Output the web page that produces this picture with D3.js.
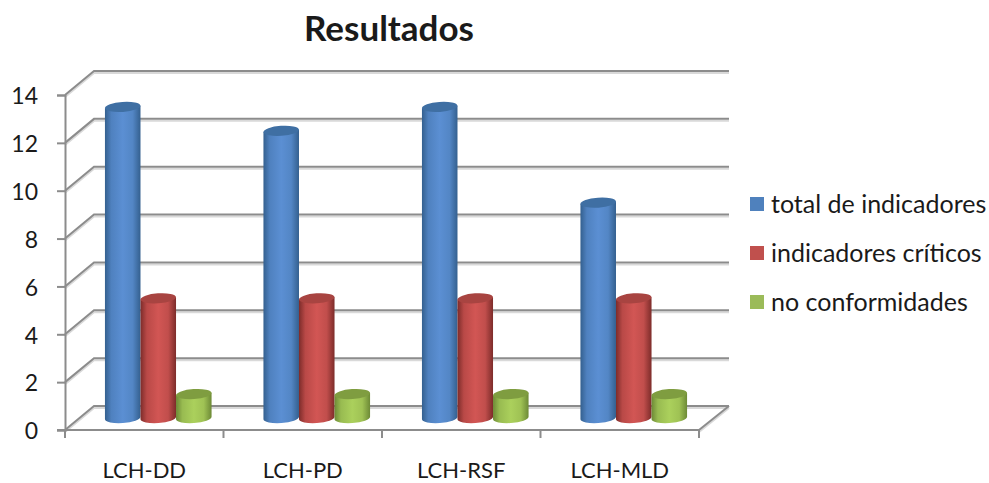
<!DOCTYPE html>
<html>
<head>
<meta charset="utf-8">
<script src="https://cdn.jsdelivr.net/npm/d3@7"></script>
<style>
  html, body { margin: 0; padding: 0; background: #fff; }
  svg { display: block; }
  text { font-family: Lato, "Open Sans", sans-serif; fill: #1a1a1a; }
</style>
</head>
<body>
<svg id="chart" width="989" height="483"></svg>
<script>
const categories = ["LCH-DD", "LCH-PD", "LCH-RSF", "LCH-MLD"];
const seriesNames = ["total de indicadores", "indicadores críticos", "no conformidades"];
const totalIndicadores = [13, 12, 13, 9];
const indicadoresCriticos = [5, 5, 5, 5];
const noConformidades = [1, 1, 1, 1];
const seriesValues = [totalIndicadores, indicadoresCriticos, noConformidades];
const yTicks = [0, 2, 4, 6, 8, 10, 12, 14];
const seriesColors = [
  { center: "#5b8fd3", edge: "#34608f", top: "#3f6fa3", key: "#4f81bd" },
  { center: "#d25654", edge: "#7d2c2a", top: "#a84441", key: "#c0504d" },
  { center: "#abd05c", edge: "#6d8a36", top: "#7f9d40", key: "#9bbb59" }
];

const svg = d3.select("#chart");

// Oblique projection of the box: depth shifts right and upward.
const depthX = 29, depthY = 24;
const frontLeft = 65, frontRight = 699, frontBottom = 430, frontTop = 95;

const y = d3.scaleLinear().domain([0, 14]).range([frontBottom, frontTop]);
const x = d3.scaleBand().domain(categories).range([frontLeft, frontRight]);
const inner = d3.scaleBand().domain(d3.range(seriesNames.length))
  .range([0, x.bandwidth()]).paddingInner(0).paddingOuter(0.73).align(0.77);

const gridColor = "#8c8c8c";

// Side wall, back wall and floor grid lines, each with a faint drop shadow.
[{ color: "#d9d9d9", shift: 2 }, { color: gridColor, shift: 0 }].forEach(layer => {
  const grid = svg.append("g").attr("fill", "none").attr("stroke", layer.color).attr("stroke-width", 2)
    .attr("transform", `translate(0,${layer.shift})`);
  yTicks.forEach(t => {
    grid.append("path").attr("d", d3.line()([
      [frontLeft, y(t)],
      [frontLeft + depthX, y(t) - depthY],
      [frontRight + depthX + 1, y(t) - depthY]
    ]));
  });
  grid.append("path").attr("d", d3.line()([
    [frontRight, frontBottom],
    [frontRight + depthX + 1, frontBottom - depthY]
  ]));
});

// Value axis on the front left edge.
const yAxis = d3.axisLeft(y).tickValues(yTicks).tickSize(8).tickPadding(19).tickFormat(d3.format("d"));
const yG = svg.append("g").attr("transform", `translate(${frontLeft},0)`).call(yAxis);
yG.selectAll(".domain").attr("stroke", gridColor).attr("stroke-width", 2);
yG.selectAll(".tick line").attr("stroke", gridColor).attr("stroke-width", 2);
yG.selectAll("text").style("font-size", "23px").attr("dy", "0.38em");

// Category axis: labels centred in each band, ticks on the band edges.
const xAxis = d3.axisBottom(x).tickSize(0).tickPadding(32);
const xG = svg.append("g").attr("transform", `translate(0,${frontBottom})`).call(xAxis);
xG.select(".domain").remove();
xG.selectAll("text").style("font-size", "22px");
const edges = categories.map(c => x(c)).concat(frontRight);
svg.append("g").selectAll("line").data(edges).join("line")
  .attr("x1", d => d).attr("x2", d => d)
  .attr("y1", frontBottom).attr("y2", frontBottom + 8)
  .attr("stroke", gridColor).attr("stroke-width", 2);
svg.append("line")
  .attr("x1", frontLeft - 8).attr("x2", frontRight)
  .attr("y1", frontBottom).attr("y2", frontBottom)
  .attr("stroke", gridColor).attr("stroke-width", 2);

// Horizontal shading across each cylinder.
const defs = svg.append("defs");
seriesColors.forEach((c, i) => {
  const g = defs.append("linearGradient").attr("id", `cyl${i}`);
  g.append("stop").attr("offset", "0%").attr("stop-color", c.edge);
  g.append("stop").attr("offset", "18%").attr("stop-color", d3.interpolateRgb(c.edge, c.center)(0.7));
  g.append("stop").attr("offset", "50%").attr("stop-color", c.center);
  g.append("stop").attr("offset", "78%").attr("stop-color", d3.interpolateRgb(c.edge, c.center)(0.8));
  g.append("stop").attr("offset", "100%").attr("stop-color", c.edge);
});

// Cylinders stand halfway into the depth of the box; their ends tilt with the view.
const baseShift = 12, ry = 5, tilt = -4, rise = 1.2;
seriesNames.forEach((name, s) => {
  const gS = svg.append("g").attr("class", "series");
  categories.forEach((cat, k) => {
    const v = seriesValues[s][k];
    const w = inner.bandwidth();
    const x0 = x(cat) + inner(s);
    const rx = w / 2;
    const yBase = y(0) - baseShift;
    const yTop = y(v) - baseShift;
    gS.append("path")
      .attr("fill", `url(#cyl${s})`)
      .attr("d", `M${x0},${yTop + rise} L${x0},${yBase + rise} A${rx},${ry} ${tilt} 0 0 ${x0 + w},${yBase - rise} L${x0 + w},${yTop - rise} Z`);
    gS.append("ellipse")
      .attr("rx", rx).attr("ry", ry)
      .attr("transform", `translate(${x0 + rx},${yTop}) rotate(${tilt})`)
      .attr("fill", seriesColors[s].top);
  });
});

// Legend.
const legend = svg.append("g");
const legendY = d3.scalePoint().domain(seriesNames).range([204, 302]);
seriesNames.forEach((name, i) => {
  const ly = legendY(name);
  legend.append("rect").attr("x", 750).attr("y", ly - 7).attr("width", 14).attr("height", 14)
    .attr("fill", seriesColors[i].key);
  legend.append("text").attr("x", 771).attr("y", ly).attr("dy", "0.35em")
    .style("font-size", "25px").text(name);
});

// Title.
svg.append("text").attr("x", 389).attr("y", 41).attr("text-anchor", "middle")
  .style("font-size", "35px").style("font-weight", "700").text("Resultados");
</script>
</body>
</html>
